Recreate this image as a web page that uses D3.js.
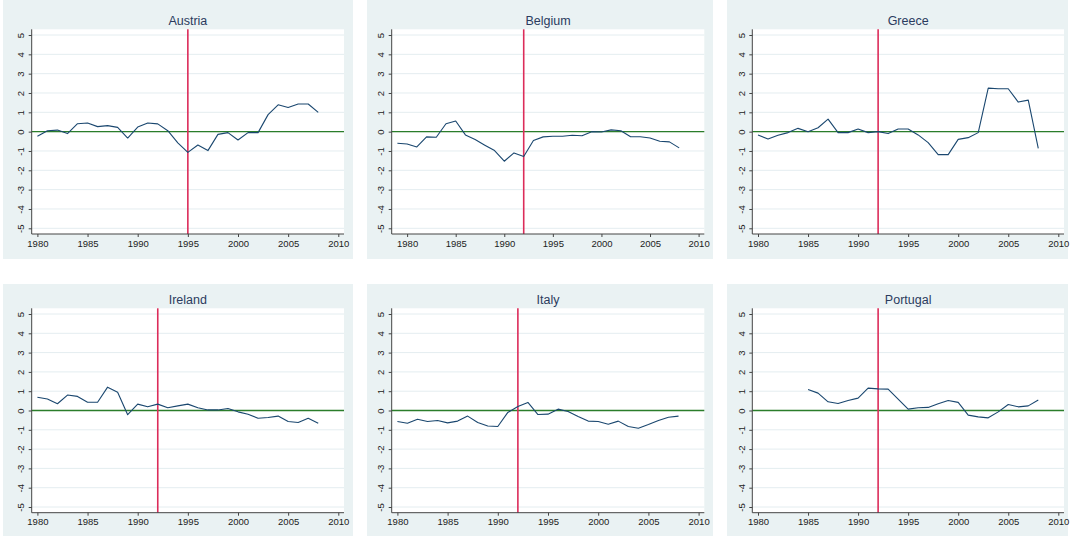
<!DOCTYPE html>
<html><head><meta charset="utf-8">
<script src="https://cdn.jsdelivr.net/npm/d3@7"></script>
<style>body{margin:0;background:#fff;}svg{display:block;font-family:"Liberation Sans",Arial,sans-serif;}</style>
</head><body>
<svg id="c" width="1070" height="536"></svg>
<script>
const countries = ["Austria","Belgium","Greece","Ireland","Italy","Portugal"];
const startYears = [1980,1979,1980,1980,1980,1985];
const breakYears = [1995,1992,1992,1992,1992,1992];
const austria = [-0.24,0.05,0.08,-0.1,0.41,0.45,0.26,0.31,0.22,-0.33,0.24,0.45,0.4,0.05,-0.58,-1.07,-0.69,-0.98,-0.14,-0.05,-0.43,-0.05,-0.05,0.88,1.39,1.25,1.43,1.43,1.0];
const belgium = [-0.6,-0.64,-0.79,-0.27,-0.29,0.41,0.55,-0.17,-0.41,-0.7,-0.98,-1.53,-1.1,-1.29,-0.46,-0.27,-0.24,-0.24,-0.19,-0.21,0.0,-0.02,0.09,0.05,-0.26,-0.26,-0.33,-0.5,-0.53,-0.84];
const greece = [-0.17,-0.38,-0.19,-0.05,0.17,0.0,0.2,0.65,-0.05,-0.05,0.14,-0.05,0.0,-0.1,0.14,0.14,-0.17,-0.57,-1.19,-1.19,-0.4,-0.31,-0.05,2.25,2.22,2.22,1.53,1.63,-0.86];
const ireland = [0.69,0.6,0.35,0.8,0.73,0.43,0.43,1.21,0.95,-0.22,0.33,0.19,0.33,0.14,0.24,0.33,0.14,0.03,0.03,0.1,-0.07,-0.19,-0.4,-0.36,-0.29,-0.57,-0.62,-0.4,-0.66];
const italy = [-0.57,-0.66,-0.45,-0.57,-0.52,-0.64,-0.55,-0.29,-0.62,-0.8,-0.83,-0.1,0.21,0.42,-0.21,-0.19,0.07,-0.05,-0.31,-0.55,-0.57,-0.71,-0.55,-0.83,-0.92,-0.73,-0.52,-0.35,-0.29];
const portugal = [1.09,0.9,0.45,0.36,0.52,0.64,1.16,1.12,1.11,0.59,0.07,0.14,0.16,0.35,0.52,0.42,-0.24,-0.33,-0.38,-0.07,0.31,0.19,0.24,0.54];
const seriesValues = [austria,belgium,greece,ireland,italy,portugal];
const yTicks = [-5,-4,-3,-2,-1,0,1,2,3,4,5];
const xTicks = [1980,1985,1990,1995,2000,2005,2010];

const svg = d3.select("#c");
const bgCols = [[3,353],[367,713],[727,1068]];
const bgRows = [[0,259],[284,536]];
const plotCols = [[31.7,344],[391.7,704.3],[752.3,1064]];
const plotRows = [[29.3,234],[308.3,512.7]];
const pad = 5.7;
const BG = "#eaf2f3", GRID = "#e4edf0", NAVY = "#1a476f", RED = "#dc2c5a", GREEN = "#2b7d2b", AX = "#444", TXT = "#222";

countries.forEach((name, i) => {
  const c = i % 3, r = Math.floor(i / 3);
  const g = svg.append("g");
  g.append("rect").attr("x", bgCols[c][0]).attr("y", bgRows[r][0])
    .attr("width", bgCols[c][1]-bgCols[c][0]).attr("height", bgRows[r][1]-bgRows[r][0]).attr("fill", BG);
  const [x0, x1] = plotCols[c], [y0, y1] = plotRows[r];
  g.append("rect").attr("x", x0).attr("y", y0).attr("width", x1-x0).attr("height", y1-y0).attr("fill", "#fff");
  const x = d3.scaleLinear().domain([Math.min(startYears[i], 1980), 2010]).range([x0+pad, x1-pad]);
  const y = d3.scaleLinear().domain([-5, 5]).range([y1-pad, y0+pad]);
  g.selectAll("line.grid").data(yTicks).enter().append("line").attr("class", "grid")
    .attr("x1", x0).attr("x2", x1).attr("y1", d => y(d)).attr("y2", d => y(d))
    .attr("stroke", GRID).attr("stroke-width", 1);
  g.append("line").attr("x1", x0).attr("x2", x1).attr("y1", y(0)).attr("y2", y(0))
    .attr("stroke", GREEN).attr("stroke-width", 1.3);
  g.append("line").attr("x1", x(breakYears[i])).attr("x2", x(breakYears[i])).attr("y1", y0).attr("y2", y1)
    .attr("stroke", RED).attr("stroke-width", 1.6);
  const data = seriesValues[i].map((v, k) => [startYears[i] + k, v]);
  g.append("path").datum(data)
    .attr("d", d3.line().x(d => x(d[0])).y(d => y(d[1])))
    .attr("fill", "none").attr("stroke", NAVY).attr("stroke-width", 1.1).attr("stroke-linejoin", "round");
  const ya = g.append("g").attr("transform", `translate(${x0},0)`)
    .call(d3.axisLeft(y).tickValues(yTicks).tickFormat(d => String(d)).tickSize(3).tickSizeOuter(0));
  ya.select(".domain").attr("d", `M0,${y0}V${y1}`).attr("stroke", AX);
  ya.selectAll(".tick line").attr("stroke", AX);
  ya.selectAll(".tick text").attr("fill", TXT).attr("font-size", 9.5)
    .attr("x", 0).attr("y", 0).attr("dy", "0.35em").attr("text-anchor", "middle")
    .attr("transform", "translate(-11,0) rotate(-90)");
  const xa = g.append("g").attr("transform", `translate(0,${y1})`)
    .call(d3.axisBottom(x).tickValues(xTicks).tickFormat(d => String(d)).tickSize(3).tickPadding(3).tickSizeOuter(0));
  xa.select(".domain").attr("d", `M${x0},0H${x1}`).attr("stroke", AX);
  xa.selectAll(".tick line").attr("stroke", AX);
  xa.selectAll(".tick text").attr("fill", TXT).attr("font-size", 9.5);
  g.append("text").attr("x", (x0+x1)/2).attr("y", y0 - 4).attr("text-anchor", "middle")
    .attr("font-size", 12.5).attr("fill", "#2a3b5e").text(name);
});
</script>
</body></html>
